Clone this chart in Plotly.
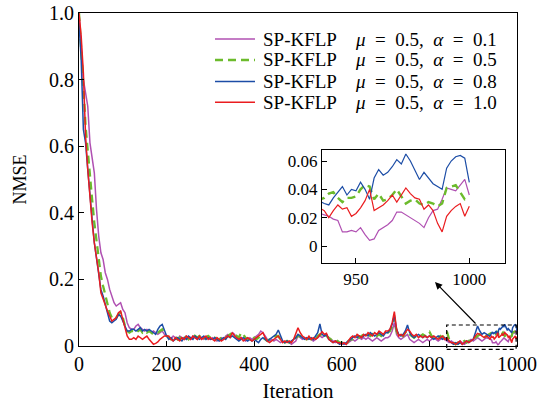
import plotly.graph_objects as go

# ---------------- data ----------------
iter_coarse = list(range(0, 931, 5))      # 0..930 every 5 iterations
iter_fine = list(range(936, 1001, 2))     # 936..1000 every 2 iterations (zoomed part)
iterations = iter_coarse + iter_fine

# alpha = 0.1 (purple)
nmse_a01 = [
    1.0, 0.88, 0.80, 0.76, 0.72, 0.61, 0.56, 0.52, 0.41, 0.33, 0.28, 0.26, 0.22, 0.20, 0.17, 0.15, 0.13, 0.12, 0.125, 0.13, 0.11, 0.10, 0.07, 0.055, 0.05,
    0.05, 0.06, 0.065, 0.055, 0.05, 0.045, 0.05, 0.045, 0.04, 0.045, 0.04, 0.035, 0.04, 0.045, 0.035, 0.03,
    0.025, 0.02, 0.03, 0.025, 0.02, 0.03, 0.025, 0.02, 0.03, 0.025,
    0.02, 0.03, 0.025, 0.02, 0.03, 0.025, 0.02, 0.025, 0.03, 0.02,
    0.025, 0.02, 0.015, 0.02, 0.025, 0.02, 0.03, 0.035, 0.03, 0.04,
    0.035, 0.025, 0.02, 0.025, 0.02, 0.015, 0.02, 0.025, 0.02, 0.025,
    0.03, 0.035, 0.045, 0.04, 0.03, 0.02, 0.015, 0.02, 0.015, 0.02,
    0.015, 0.01, 0.015, 0.01, 0.015, 0.01, 0.005, 0.01, 0.015, 0.03,
    0.025, 0.02, 0.025, 0.02, 0.025, 0.02, 0.015, 0.02, 0.025, 0.03,
    0.025, 0.03, 0.035, 0.025, 0.02, 0.015, 0.01, 0.015, 0.01, 0.005,
    0.01, 0.005, 0.01, 0.015, 0.02, 0.015, 0.02, 0.025, 0.02, 0.025,
    0.02, 0.025, 0.02, 0.015, 0.02, 0.025, 0.02, 0.015, 0.02, 0.025,
    0.025, 0.03, 0.045, 0.07, 0.035, 0.025, 0.02, 0.025, 0.03, 0.035,
    0.02, 0.015, 0.01, 0.015, 0.02, 0.015, 0.01, 0.015, 0.02, 0.015,
    0.02, 0.025, 0.02, 0.015, 0.02, 0.025, 0.02, 0.015, 0.01, 0.015,
    0.01, 0.005, 0.01, 0.015, 0.01, 0.005, 0.01, 0.015, 0.02, 0.015,
    0.02, 0.025, 0.02, 0.015, 0.02, 0.025,
    0.022, 0.021, 0.019, 0.018, 0.01, 0.01, 0.011, 0.01, 0.013, 0.008, 0.004, 0.005, 0.011, 0.013, 0.015, 0.018, 0.024,
    0.024, 0.022, 0.02, 0.018, 0.016, 0.013, 0.02, 0.025, 0.026, 0.033, 0.041, 0.04, 0.039, 0.043, 0.047, 0.036,
]

# alpha = 0.5 (green, dashed)
nmse_a05 = [
    1.0, 0.90, 0.78, 0.66, 0.58, 0.51, 0.44, 0.37, 0.32, 0.26, 0.21, 0.18, 0.15, 0.13, 0.10, 0.085, 0.08, 0.085, 0.095, 0.10, 0.085, 0.06, 0.045, 0.04, 0.045,
    0.045, 0.05, 0.045, 0.05, 0.04, 0.045, 0.04, 0.045, 0.04, 0.035, 0.04, 0.04, 0.045, 0.05, 0.04, 0.03,
    0.025, 0.02, 0.025, 0.03, 0.02, 0.025, 0.02, 0.03, 0.025, 0.02,
    0.03, 0.035, 0.03, 0.025, 0.03, 0.025, 0.02, 0.025, 0.03, 0.025,
    0.02, 0.025, 0.02, 0.02, 0.025, 0.03, 0.025, 0.03, 0.035, 0.04,
    0.035, 0.03, 0.025, 0.04, 0.035, 0.025, 0.02, 0.025, 0.02, 0.025,
    0.02, 0.025, 0.03, 0.025, 0.02, 0.015, 0.02, 0.02, 0.025, 0.03,
    0.03, 0.02, 0.015, 0.01, 0.015, 0.01, 0.015, 0.02, 0.025, 0.03,
    0.03, 0.025, 0.02, 0.02, 0.025, 0.02, 0.025, 0.02, 0.03, 0.035,
    0.03, 0.035, 0.03, 0.025, 0.02, 0.015, 0.01, 0.015, 0.01, 0.01,
    0.01, 0.005, 0.015, 0.02, 0.02, 0.025, 0.03, 0.025, 0.03, 0.035,
    0.03, 0.035, 0.03, 0.035, 0.04, 0.03, 0.035, 0.03, 0.035, 0.04,
    0.04, 0.045, 0.06, 0.085, 0.045, 0.03, 0.035, 0.03, 0.04, 0.045,
    0.035, 0.03, 0.025, 0.03, 0.025, 0.03, 0.035, 0.03, 0.04, 0.043,
    0.03, 0.025, 0.02, 0.025, 0.03, 0.025, 0.035, 0.043, 0.02, 0.015,
    0.01, 0.005, 0.01, 0.005, 0.01, 0.015, 0.01, 0.015, 0.02, 0.025,
    0.025, 0.03, 0.035, 0.03, 0.025, 0.03,
    0.034, 0.037, 0.038, 0.034, 0.031, 0.034, 0.034, 0.035, 0.04, 0.043, 0.042, 0.033, 0.037, 0.032, 0.033, 0.036, 0.04,
    0.035, 0.03, 0.032, 0.033, 0.03, 0.029, 0.031, 0.03, 0.028, 0.03, 0.041, 0.042, 0.043, 0.038, 0.033, 0.034,
]

# alpha = 0.8 (blue)
nmse_a08 = [
    0.97, 0.86, 0.65, 0.61, 0.53, 0.44, 0.38, 0.31, 0.26, 0.21, 0.17, 0.15, 0.12, 0.10, 0.075, 0.07, 0.075, 0.08, 0.095, 0.09, 0.075, 0.06, 0.045, 0.045, 0.05,
    0.05, 0.045, 0.05, 0.055, 0.045, 0.05, 0.045, 0.05, 0.045, 0.04, 0.035, 0.05, 0.06, 0.065, 0.045, 0.03,
    0.02, 0.025, 0.015, 0.02, 0.025, 0.02, 0.015, 0.025, 0.02, 0.03,
    0.025, 0.02, 0.03, 0.025, 0.02, 0.025, 0.03, 0.02, 0.025, 0.02,
    0.02, 0.025, 0.02, 0.015, 0.02, 0.025, 0.02, 0.03, 0.025, 0.03,
    0.025, 0.02, 0.015, 0.02, 0.025, 0.02, 0.015, 0.02, 0.015, 0.02,
    0.015, 0.01, 0.02, 0.025, 0.02, 0.015, 0.02, 0.025, 0.03, 0.035,
    0.048, 0.03, 0.015, 0.01, 0.015, 0.01, 0.015, 0.02, 0.025, 0.035,
    0.03, 0.025, 0.02, 0.025, 0.02, 0.025, 0.02, 0.03, 0.04, 0.066,
    0.035, 0.03, 0.035, 0.02, 0.015, 0.01, 0.015, 0.01, 0.005, 0.01,
    0.005, 0.01, 0.015, 0.02, 0.025, 0.03, 0.025, 0.03, 0.025, 0.03,
    0.035, 0.03, 0.04, 0.035, 0.03, 0.035, 0.04, 0.035, 0.03, 0.04,
    0.04, 0.05, 0.065, 0.093, 0.05, 0.035, 0.03, 0.035, 0.045, 0.063,
    0.04, 0.03, 0.025, 0.03, 0.035, 0.03, 0.025, 0.03, 0.025, 0.03,
    0.025, 0.02, 0.025, 0.03, 0.025, 0.02, 0.025, 0.02, 0.015, 0.01,
    0.005, 0.01, 0.005, 0.01, 0.005, 0.01, 0.015, 0.01, 0.015, 0.02,
    0.04, 0.06, 0.045, 0.035, 0.04, 0.035,
    0.03, 0.029, 0.034, 0.038, 0.042, 0.036, 0.04, 0.039, 0.045, 0.04, 0.033, 0.048, 0.054, 0.05, 0.052, 0.056, 0.061,
    0.058, 0.065, 0.06, 0.053, 0.047, 0.052, 0.048, 0.044, 0.042, 0.04, 0.055, 0.06, 0.063, 0.064, 0.062, 0.045,
]

# alpha = 1.0 (red)
nmse_a10 = [
    1.0, 0.93, 0.82, 0.63, 0.53, 0.44, 0.37, 0.31, 0.27, 0.22, 0.16, 0.14, 0.12, 0.105, 0.09, 0.075, 0.08, 0.085, 0.10, 0.105, 0.08, 0.05, 0.03, 0.02, 0.02,
    0.025, 0.02, 0.03, 0.025, 0.02, 0.025, 0.03, 0.02, 0.012, 0.005, 0.008, 0.012, 0.02, 0.025, 0.03, 0.03,
    0.03, 0.02, 0.015, 0.025, 0.02, 0.015, 0.025, 0.02, 0.03, 0.025,
    0.02, 0.03, 0.025, 0.02, 0.03, 0.02, 0.025, 0.03, 0.02, 0.025,
    0.02, 0.015, 0.025, 0.02, 0.015, 0.02, 0.025, 0.03, 0.025, 0.04,
    0.03, 0.025, 0.02, 0.025, 0.015, 0.02, 0.025, 0.02, 0.015, 0.02,
    0.025, 0.03, 0.035, 0.04, 0.025, 0.015, 0.01, 0.015, 0.02, 0.025,
    0.03, 0.02, 0.01, 0.015, 0.01, 0.015, 0.01, 0.02, 0.04, 0.055,
    0.04, 0.03, 0.025, 0.02, 0.03, 0.02, 0.025, 0.02, 0.025, 0.035,
    0.043, 0.035, 0.038, 0.02, 0.015, 0.01, 0.015, 0.01, 0.01, 0.005,
    0.01, 0.005, 0.015, 0.025, 0.03, 0.025, 0.035, 0.03, 0.025, 0.035,
    0.03, 0.04, 0.035, 0.03, 0.04, 0.035, 0.045, 0.04, 0.035, 0.045,
    0.045, 0.05, 0.07, 0.103, 0.05, 0.03, 0.035, 0.03, 0.04, 0.05,
    0.045, 0.035, 0.03, 0.035, 0.025, 0.03, 0.025, 0.03, 0.025, 0.03,
    0.025, 0.03, 0.025, 0.02, 0.025, 0.03, 0.02, 0.025, 0.015, 0.01,
    0.01, 0.005, 0.01, 0.015, 0.005, 0.01, 0.015, 0.01, 0.015, 0.02,
    0.03, 0.038, 0.035, 0.03, 0.025, 0.03,
    0.025, 0.02, 0.025, 0.029, 0.026, 0.027, 0.021, 0.023, 0.027, 0.032, 0.04, 0.025, 0.027, 0.029, 0.032, 0.036, 0.031,
    0.036, 0.041, 0.037, 0.034, 0.033, 0.026, 0.029, 0.025, 0.016, 0.01, 0.021, 0.025, 0.028, 0.03, 0.021, 0.028,
]

series_names = [
    "SP-KFLP\u2003<i>μ</i>\u2002=\u20020.5,\u2002<i>α</i>\u2002=\u20020.1",
    "SP-KFLP\u2003<i>μ</i>\u2002=\u20020.5,\u2002<i>α</i>\u2002=\u20020.5",
    "SP-KFLP\u2003<i>μ</i>\u2002=\u20020.5,\u2002<i>α</i>\u2002=\u20020.8",
    "SP-KFLP\u2003<i>μ</i>\u2002=\u20020.5,\u2002<i>α</i>\u2002=\u20021.0",
]
series_values = [nmse_a01, nmse_a05, nmse_a08, nmse_a10]
for s in series_values:
    assert len(s) == len(iterations), (len(s), len(iterations))

main_xticks = [0, 200, 400, 600, 800, 1000]
main_yticks = [0, 0.2, 0.4, 0.6, 0.8, 1.0]
main_ytext = ["0", "0.2", "0.4", "0.6", "0.8", "1.0"]
inset_xticks = [950, 1000]
inset_yticks = [0, 0.02, 0.04, 0.06]
inset_ytext = ["0", "0.02", "0.04", "0.06"]

# ---------------- styling ----------------
colors = ["#B050B2", "#6CBB2C", "#1C4DA6", "#EA1C1F"]
dashes = ["solid", "8px,5px", "solid", "solid"]
main_widths = [1.5, 2.3, 1.5, 1.5]
inset_widths = [1.2, 2.4, 1.2, 1.2]
FONT = "Liberation Serif"

fig = go.Figure()
for name, vals, c, d, w in zip(series_names, series_values, colors, dashes, main_widths):
    fig.add_trace(go.Scatter(x=iterations, y=vals, mode="lines", name=name,
                             line=dict(color=c, dash=d, width=w),
                             xaxis="x", yaxis="y", showlegend=False))
for name, vals, c, d, w in zip(series_names, series_values, colors, dashes, inset_widths):
    fig.add_trace(go.Scatter(x=iterations, y=vals, mode="lines", name=name,
                             line=dict(color=c, dash=d, width=w),
                             xaxis="x2", yaxis="y2", showlegend=False))

axis_common = dict(showline=True, linecolor="black", linewidth=1.2, mirror=True,
                   ticks="inside", ticklen=5, tickcolor="black", tickwidth=1.2,
                   showgrid=False, zeroline=False, automargin=False)

fig.update_layout(
    width=547, height=403,
    margin=dict(l=79, r=30, t=13, b=57, autoexpand=False),
    paper_bgcolor="white", plot_bgcolor="white",
    font=dict(family=FONT, size=20, color="black"),
    xaxis=dict(domain=[0, 1], range=[0, 1000], tickvals=main_xticks,
               title=dict(text="Iteration", font=dict(size=21), standoff=10),
               tickfont=dict(size=20), **axis_common),
    yaxis=dict(domain=[0, 1], range=[0, 1], tickvals=main_yticks, ticktext=main_ytext,
               title=dict(text="NMSE", font=dict(size=18), standoff=17),
               tickfont=dict(size=20), **axis_common),
    xaxis2=dict(domain=[0.5548, 0.9726], anchor="y2", range=[935, 1015.75],
                tickvals=inset_xticks, tickfont=dict(size=17), **axis_common),
    yaxis2=dict(domain=[0.2492, 0.5886], anchor="x2", range=[-0.012, 0.0678],
                tickvals=inset_yticks, ticktext=inset_ytext, tickfont=dict(size=17),
                **axis_common),
    showlegend=False,
)

# legend drawn as line samples + text (top-right of the main panel)
legend_rows_y = [0.9219, 0.8589, 0.7943, 0.7318]
for name, c, d, w, yy in zip(series_names, colors, dashes, main_widths, legend_rows_y):
    fig.add_shape(type="line", xref="paper", yref="paper",
                  x0=0.3105, x1=0.4018, y0=yy, y1=yy,
                  line=dict(color=c, dash=d, width=w))
    fig.add_annotation(x=0.4155, y=yy, xref="paper", yref="paper",
                       xanchor="left", yanchor="middle", showarrow=False,
                       text=name, font=dict(family=FONT, size=19, color="black"))

# dashed rectangle marking the zoomed region
fig.add_shape(type="rect", xref="paper", yref="paper",
              x0=0.8395, x1=0.998, y0=-0.0099, y1=0.063,
              line=dict(color="black", width=1.2, dash="4px,3px"))

# arrow from the zoomed region to the inset
fig.add_annotation(x=812.8, y=0.192, xref="x", yref="y",
                   ax=908.7, ay=0.063, axref="x", ayref="y",
                   showarrow=True, arrowhead=2, arrowsize=1.2, arrowwidth=1.2,
                   arrowcolor="black", text="")

fig.write_html(
    "out.html",
    config={"displayModeBar": False},
    post_script=(
        "document.body.style.margin='0';document.body.style.padding='0';"
        "var g=document.getElementById('{plot_id}');"
        "g.style.position='absolute';g.style.left='0px';g.style.top='0px';"
    ),
)
